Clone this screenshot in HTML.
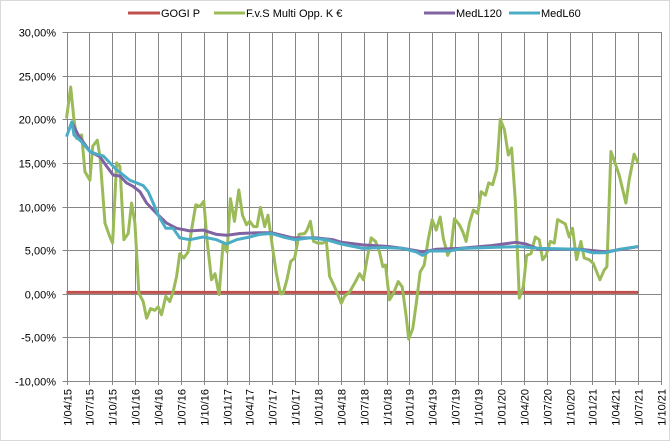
<!DOCTYPE html>
<html><head><meta charset="utf-8"><style>
body{margin:0;background:#fff}
svg{display:block;font-family:"Liberation Sans",sans-serif}
</style></head><body>
<svg id="chart" width="670" height="441" viewBox="0 0 670 441" xmlns="http://www.w3.org/2000/svg">
<rect x="0.5" y="0.5" width="669" height="440" fill="#fff" stroke="#d9d9d9"/>
<g id="grid"></g>
<g id="yaxis"></g>
<g id="xaxis"></g>
<g id="series"></g>
<g id="legend" font-size="11" fill="#000">
  <g><line x1="128" y1="13" x2="160" y2="13" stroke="#C0504D" stroke-width="3"/><text x="161" y="17">GOGI P</text></g>
  <g><line x1="214" y1="13" x2="245" y2="13" stroke="#9BBB59" stroke-width="3"/><text x="246" y="17">F.v.S Multi Opp. K €</text></g>
  <g><line x1="424" y1="13" x2="455" y2="13" stroke="#8064A2" stroke-width="3"/><text x="456" y="17">MedL120</text></g>
  <g><line x1="509" y1="13" x2="540" y2="13" stroke="#4BACC6" stroke-width="3"/><text x="541" y="17">MedL60</text></g>
</g>
</svg>
<script>
// month offsets from 1/04/15
const xTickLabels = ["1/04/15","1/07/15","1/10/15","1/01/16","1/04/16","1/07/16","1/10/16","1/01/17","1/04/17","1/07/17","1/10/17","1/01/18","1/04/18","1/07/18","1/10/18","1/01/19","1/04/19","1/07/19","1/10/19","1/01/20","1/04/20","1/07/20","1/10/20","1/01/21","1/04/21","1/07/21","1/10/21"];
const yTicks = [-10,-5,0,5,10,15,20,25,30];
const gogiMonths = [0, 75];
const gogiValues = [0.15, 0.15];
const fvsMonths = [0,0.55,0.99,1.34,1.99,2.42,3.07,3.44,4.04,4.39,5.05,5.70,6.05,6.57,7.01,7.53,8.10,8.54,8.97,9.50,10.06,10.51,11.03,11.59,12.03,12.47,13.03,13.55,13.99,14.44,14.87,15.39,15.95,16.48,16.97,17.49,18.02,18.44,19.02,19.49,20.02,20.54,21.07,21.51,22.04,22.60,23.09,23.61,24.04,24.56,25.00,25.44,26.00,26.44,27.01,27.54,28.06,28.40,28.92,29.41,29.94,30.50,31.25,31.55,32.00,32.42,32.99,33.65,34.08,34.52,35.17,36.06,36.48,37.14,37.80,38.46,38.97,39.41,39.98,40.54,41.07,41.50,41.86,42.38,42.90,43.52,44.04,44.57,44.90,45.43,45.95,46.40,46.93,47.45,47.98,48.50,49.03,49.45,50.01,50.46,50.90,51.55,51.99,52.43,52.86,53.39,53.95,54.40,54.96,55.39,55.91,56.44,56.92,57.45,57.97,58.40,58.89,59.41,59.93,60.37,60.95,61.51,62.03,62.47,62.91,63.47,64.00,64.43,65.44,65.96,66.39,66.92,67.49,67.93,68.58,69.10,69.98,70.54,70.90,71.43,71.85,72.51,73.39,73.82,74.47,75.00];
const fvsValues = [20.1,23.7,19.9,17.8,18.2,14.0,13.0,16.9,17.6,15.7,8.1,6.5,5.8,15.0,14.6,6.2,6.9,10.4,8.1,0.05,-0.9,-2.8,-1.7,-1.9,-1.5,-2.4,-0.3,-0.9,0.2,2.0,4.6,4.1,4.8,7.7,10.2,10.0,10.6,6.2,1.6,2.3,-0.1,5.8,4.8,10.9,8.3,11.9,9.0,7.9,8.3,7.7,7.7,9.9,7.7,9.0,5.4,2.3,0.0,0.0,1.6,3.7,4.1,6.8,6.9,7.3,8.3,6.0,5.8,5.8,6.1,2.0,0.8,-1.1,-0.3,0.2,1.2,2.3,1.6,3.9,6.4,6.0,4.8,3.1,3.3,-0.7,0.05,1.4,0.8,-2.6,-5.2,-4.0,-0.7,2.5,3.3,6.2,8.5,7.3,8.8,6.3,4.4,5.2,8.6,7.9,7.1,6.0,8.1,9.6,9.2,11.7,11.3,12.7,12.5,14.2,20.0,18.8,15.9,16.7,10.7,-0.5,0.8,4.4,4.6,6.5,6.2,3.9,4.4,6.0,5.8,8.5,8.0,6.5,7.5,3.9,6.0,4.1,3.9,3.5,1.6,2.7,3.1,16.3,15.3,13.6,10.4,13.0,16.0,15.0];
const med120Months = [0.72,1.55,3.07,4.39,5.27,6.13,7.01,7.88,8.75,9.63,10.51,11.82,13.13,14.44,16.18,17.92,19.68,20.99,22.73,25.35,26.89,29.71,32.77,34.96,36.06,38.88,42.38,44.13,46.74,48.50,51.55,55.48,58.98,60.28,62.03,67.27,70.77,75];
const med120Values = [19.6,18.2,16.3,15.7,14.6,13.6,13.5,12.7,12.3,11.7,10.4,9.2,8.1,7.5,7.2,7.3,6.8,6.7,6.9,7.0,7.0,6.4,6.4,6.2,5.9,5.6,5.4,5.2,4.8,5.1,5.2,5.5,5.9,5.7,5.1,5.1,4.8,5.4];
const med60Months = [0,0.69,0.99,1.99,3.07,3.96,4.82,5.70,6.57,7.45,8.32,9.20,10.06,10.72,11.37,12.03,13.03,13.99,14.87,16.18,17.92,19.68,20.99,22.30,24.04,25.35,26.89,28.40,29.94,31.90,34.08,36.06,38.88,41.50,44.13,45.88,46.74,47.63,50.24,51.99,55.48,59.41,62.03,67.27,69.02,70.77,72.51,75];
const med60Values = [18.0,19.7,18.2,17.4,16.3,16.0,15.8,15.0,14.2,13.6,13.0,12.7,12.4,11.7,10.4,9.0,7.5,7.5,6.4,6.2,6.5,6.2,5.7,6.2,6.5,6.8,6.9,6.5,6.2,6.4,6.2,5.7,5.2,5.3,5.2,4.8,4.4,4.9,4.9,5.2,5.3,5.4,5.2,5.1,4.7,4.7,5.1,5.4];

const NS="http://www.w3.org/2000/svg";
const X0=66.5, X1=661, Y0=32, Y1=381, YMIN=-10, YMAX=30, MMAX=(xTickLabels.length-1)*3;
const xs=m=>X0+(X1-X0)*m/MMAX;
const ys=v=>Y1-(Y1-Y0)*(v-YMIN)/(YMAX-YMIN);
function mk(tag,attrs,parent){const e=document.createElementNS(NS,tag);for(const k in attrs)e.setAttribute(k,attrs[k]);parent.appendChild(e);return e;}
const grid=document.getElementById('grid'),ya=document.getElementById('yaxis'),xa=document.getElementById('xaxis'),ser=document.getElementById('series');
yTicks.forEach(t=>{
  const y=Math.round(ys(t))+0.5;
  const l=mk('line',{x1:X0-4,x2:X1,y1:y,y2:y,stroke:'#868686','stroke-width':1},grid);
  
  
  const tx=mk('text',{x:56,y:y+4,'text-anchor':'end','font-size':11,fill:'#000'},ya);
  tx.textContent=t.toFixed(2).replace('.',',')+'%';
  
  
});
xTickLabels.forEach((lab,i)=>{
  const x=Math.round(xs(i*3))+0.5;
  const l=mk('line',{x1:x,x2:x,y1:Y0,y2:Y1+4,stroke:'#868686','stroke-width':1},grid);
  
  
  const tx=mk('text',{x:0,y:0,'text-anchor':'end','font-size':11,fill:'#000',transform:`translate(${x+4},${Y1+8}) rotate(-90)`},xa);
  tx.textContent=lab;
  
  
});
function line(ms,vs,color,name){
  const d=ms.map((m,i)=>(i?'L':'M')+xs(m).toFixed(1)+','+ys(vs[i]).toFixed(1)).join('');
  const p=mk('path',{d:d,fill:'none',stroke:color,'stroke-width':3,'stroke-linejoin':'round'},ser);
  
  
}
line(gogiMonths,gogiValues,'#C0504D','gogi-p-line');
line(fvsMonths,fvsValues,'#9BBB59','fvs-multi-opp-line');
line(med120Months,med120Values,'#8064A2','medl120-line');
line(med60Months,med60Values,'#4BACC6','medl60-line');
</script>
</body></html>
